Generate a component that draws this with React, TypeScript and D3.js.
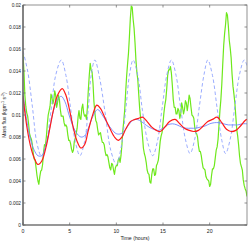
import React from 'react';
import * as d3 from 'd3';

// time axis ticks (hours) and flux ticks
const xTicks = [0, 5, 10, 15, 20];
const yTicks = [0, 0.002, 0.004, 0.006, 0.008, 0.01, 0.012, 0.014, 0.016, 0.018, 0.02];
const yTickLabels = ['0', '0.002', '0.004', '0.006', '0.008', '0.01', '0.012', '0.014', '0.016', '0.018', '0.02'];

// observed flux, sampled every 0.1 h from 0 to 24 h
const observedStep = 0.1;
const observed = [
  0.0155, 0.0140, 0.0118, 0.0108, 0.0102, 0.0099, 0.0092, 0.0083, 0.0080, 0.0078,
  0.0073, 0.0065, 0.0060, 0.0059, 0.0052, 0.0045, 0.0040, 0.0037, 0.0044, 0.0049,
  0.0050, 0.0055, 0.0066, 0.0073, 0.0072, 0.0080, 0.0091, 0.0100, 0.0104, 0.0108,
  0.0119, 0.0116, 0.0110, 0.0114, 0.0122, 0.0118, 0.0107, 0.0111, 0.0118, 0.0114,
  0.0105, 0.0099, 0.0099, 0.0099, 0.0093, 0.0090, 0.0091, 0.0089, 0.0082, 0.0077,
  0.0077, 0.0074, 0.0069, 0.0066, 0.0068, 0.0076, 0.0079, 0.0083, 0.0088, 0.0098,
  0.0104, 0.0097, 0.0096, 0.0106, 0.0110, 0.0102, 0.0099, 0.0100, 0.0096, 0.0107,
  0.0123, 0.0136, 0.0147, 0.0141, 0.0139, 0.0129, 0.0112, 0.0102, 0.0095, 0.0093,
  0.0087, 0.0082, 0.0083, 0.0084, 0.0079, 0.0075, 0.0075, 0.0073, 0.0067, 0.0063,
  0.0064, 0.0062, 0.0057, 0.0052, 0.0050, 0.0056, 0.0055, 0.0050, 0.0046, 0.0052,
  0.0054, 0.0054, 0.0059, 0.0061, 0.0057, 0.0063, 0.0073, 0.0086, 0.0095, 0.0105,
  0.0121, 0.0135, 0.0146, 0.0156, 0.0171, 0.0188, 0.0199, 0.0198, 0.0187, 0.0179,
  0.0166, 0.0150, 0.0139, 0.0132, 0.0119, 0.0106, 0.0097, 0.0091, 0.0081, 0.0070,
  0.0065, 0.0062, 0.0057, 0.0050, 0.0047, 0.0046, 0.0039, 0.0038, 0.0046, 0.0051,
  0.0051, 0.0045, 0.0046, 0.0054, 0.0056, 0.0059, 0.0067, 0.0076, 0.0081, 0.0084,
  0.0093, 0.0102, 0.0109, 0.0114, 0.0124, 0.0136, 0.0141, 0.0141, 0.0144, 0.0138,
  0.0127, 0.0114, 0.0107, 0.0107, 0.0101, 0.0101, 0.0106, 0.0104, 0.0097, 0.0101,
  0.0111, 0.0107, 0.0101, 0.0105, 0.0113, 0.0111, 0.0104, 0.0110, 0.0118, 0.0115,
  0.0107, 0.0100, 0.0099, 0.0097, 0.0089, 0.0084, 0.0083, 0.0080, 0.0072, 0.0067,
  0.0067, 0.0063, 0.0057, 0.0052, 0.0051, 0.0050, 0.0044, 0.0042, 0.0041, 0.0040,
  0.0035, 0.0037, 0.0045, 0.0051, 0.0051, 0.0054, 0.0061, 0.0068, 0.0071, 0.0078,
  0.0091, 0.0104, 0.0114, 0.0128, 0.0146, 0.0163, 0.0174, 0.0182, 0.0193, 0.0191,
  0.0181, 0.0168, 0.0161, 0.0152, 0.0137, 0.0126, 0.0119, 0.0111, 0.0099, 0.0087,
  0.0081, 0.0073, 0.0063, 0.0056, 0.0053, 0.0050, 0.0041, 0.0036, 0.0033, 0.0031,
  0.0026,
];

// tidal forcing (dashed)
const forcingTime = [
  0, 0.5, 1.0, 1.5, 2.0, 2.5, 3.0, 3.5, 4.1, 4.6, 5.1, 5.6, 6.1, 6.6, 7.0, 7.3, 7.7,
  8.2, 8.8, 9.4, 10.0, 10.5, 11.0, 11.4, 11.8, 12.3, 12.8, 13.4, 13.9, 14.4, 14.9,
  15.4, 15.9, 16.4, 16.9, 17.4, 17.9, 18.4, 18.9, 19.4, 19.8, 20.3, 20.8, 21.3, 21.7,
  22.2, 22.7, 23.2, 23.7, 24.0,
];
const forcing = [
  0.0158, 0.0140, 0.0108, 0.0074, 0.0062, 0.0074, 0.0104, 0.0136, 0.0150, 0.0136,
  0.0106, 0.0076, 0.0063, 0.0076, 0.0106, 0.0136, 0.0150, 0.0134, 0.0102, 0.0068,
  0.0055, 0.0070, 0.0104, 0.0136, 0.0150, 0.0136, 0.0104, 0.0074, 0.0063, 0.0076,
  0.0106, 0.0136, 0.0150, 0.0136, 0.0106, 0.0078, 0.0065, 0.0078, 0.0108, 0.0137,
  0.0150, 0.0136, 0.0106, 0.0077, 0.0065, 0.0078, 0.0108, 0.0137, 0.0150, 0.0145,
];

// model runs
const modelTime = [
  0, 0.4, 0.8, 1.2, 1.6, 2.0, 2.5, 2.9, 3.3, 3.7, 4.1, 4.5, 4.9, 5.3, 5.7, 6.2, 6.6,
  7.0, 7.5, 8.0, 8.5, 9.0, 9.5, 10.0, 10.5, 11.0, 11.5, 12.0, 12.5, 13.0, 13.5, 14.0,
  14.5, 15.0, 15.5, 16.0, 16.5, 17.0, 17.5, 18.0, 18.5, 19.0, 19.5, 20.0, 20.5, 21.0,
  21.5, 22.0, 22.5, 23.0, 23.5, 24.0,
];
const modelBlue = [
  0.0120, 0.0095, 0.0078, 0.0068, 0.0063, 0.0063, 0.0074, 0.0090, 0.0105, 0.0114,
  0.0117, 0.0112, 0.0101, 0.0091, 0.0084, 0.0080, 0.0081, 0.0088, 0.0099, 0.0105,
  0.0100, 0.0093, 0.0087, 0.0083, 0.0083, 0.0087, 0.0093, 0.0096, 0.0095, 0.0092,
  0.0089, 0.0087, 0.0086, 0.0088, 0.0091, 0.0092, 0.0091, 0.0089, 0.0088, 0.0088,
  0.0088, 0.0089, 0.0090, 0.0092, 0.0093, 0.0093, 0.0092, 0.0091, 0.0091, 0.0091,
  0.0092, 0.0092,
];
const modelRedTime = [
  0, 0.4, 0.8, 1.2, 1.6, 2.0, 2.5, 2.9, 3.3, 3.7, 4.2, 4.6, 5.0, 5.4, 5.8, 6.2, 6.6,
  7.0, 7.5, 7.9, 8.3, 8.8, 9.3, 9.8, 10.2, 10.6, 11.0, 11.5, 12.0, 12.4, 12.8, 13.3,
  13.8, 14.3, 14.7, 15.2, 15.7, 16.3, 16.8, 17.3, 17.8, 18.3, 18.8, 19.3, 19.8, 20.3,
  20.8, 21.3, 21.8, 22.3, 22.8, 23.3, 23.8, 24.0,
];
const modelRed = [
  0.0117, 0.0090, 0.0072, 0.0061, 0.0055, 0.0058, 0.0072, 0.0089, 0.0106, 0.0118,
  0.0124, 0.0118, 0.0104, 0.0088, 0.0076, 0.0070, 0.0073, 0.0086, 0.0101, 0.0109,
  0.0106, 0.0097, 0.0088, 0.0080, 0.0077, 0.0080, 0.0087, 0.0094, 0.0096, 0.0097,
  0.0098, 0.0094, 0.0089, 0.0086, 0.0085, 0.0089, 0.0094, 0.0096, 0.0092, 0.0088,
  0.0086, 0.0085, 0.0086, 0.0090, 0.0094, 0.0096, 0.0098, 0.0093, 0.0087, 0.0085,
  0.0086, 0.0090, 0.0095, 0.0096,
];

const W = 249;
const H = 242;
const m = { left: 23, right: 2, top: 5, bottom: 17 };

export default function App() {
  const x = d3.scaleLinear().domain([0, 24]).range([m.left, W - m.right]);
  const y = d3.scaleLinear().domain([0, 0.02]).range([H - m.bottom, m.top]);

  const line = d3
    .line<[number, number]>()
    .x((d) => x(d[0]))
    .y((d) => y(d[1]));
  const smooth = d3
    .line<[number, number]>()
    .x((d) => x(d[0]))
    .y((d) => y(d[1]))
    .curve(d3.curveCatmullRom);

  const obsPts = observed.map((v, i) => [i * observedStep, v] as [number, number]);
  const forcePts = forcingTime.map((t, i) => [t, forcing[i]] as [number, number]);
  const bluePts = modelTime.map((t, i) => [t, modelBlue[i]] as [number, number]);
  const redPts = modelRedTime.map((t, i) => [t, modelRed[i]] as [number, number]);

  const x0 = m.left;
  const x1 = W - m.right;
  const y0 = H - m.bottom;
  const y1 = m.top;
  const font = '"Liberation Sans", Arial, sans-serif';

  return (
    <svg
      width={W}
      height={H}
      style={{ position: 'absolute', left: 0, top: 0, background: '#fff' }}
      fontFamily={font}
    >
      <defs>
        <clipPath id="plot">
          <rect x={x0} y={y1} width={x1 - x0} height={y0 - y1} />
        </clipPath>
      </defs>
      <rect x={x0} y={y1} width={x1 - x0} height={y0 - y1} fill="#fff" />

      <g clipPath="url(#plot)" fill="none">
        <path d={line(obsPts) || ''} stroke="#6ee81c" strokeWidth={1.2} strokeLinejoin="round" />
        <path d={smooth(forcePts) || ''} stroke="#8fa3ff" strokeWidth={0.9} strokeDasharray="3.5,2.5" />
        <path d={smooth(bluePts) || ''} stroke="#6f86ff" strokeWidth={0.9} />
        <path d={smooth(redPts) || ''} stroke="#ff1a1a" strokeWidth={1.2} />
      </g>

      {/* box */}
      <rect x={x0} y={y1} width={x1 - x0} height={y0 - y1} fill="none" stroke="#777" strokeWidth={0.8} />
      <line x1={x0} x2={x0} y1={y1} y2={y0 + 0.5} stroke="#666" strokeWidth={1.4} />
      <line x1={x0} x2={x1} y1={y0} y2={y0} stroke="#666" strokeWidth={1.2} />

      {yTicks.map((t, i) => (
        <g key={'y' + i}>
          <line x1={x0} x2={x0 + 2.5} y1={y(t)} y2={y(t)} stroke="#666" strokeWidth={0.7} />
          <line x1={x1 - 2.5} x2={x1} y1={y(t)} y2={y(t)} stroke="#666" strokeWidth={0.7} />
          <text x={x0 - 2} y={y(t)} dy="0.35em" textAnchor="end" fontSize={4.8} fill="#222">
            {yTickLabels[i]}
          </text>
        </g>
      ))}
      {xTicks.map((t) => (
        <g key={'x' + t}>
          <line x1={x(t)} x2={x(t)} y1={y0} y2={y0 - 2.5} stroke="#666" strokeWidth={0.7} />
          <line x1={x(t)} x2={x(t)} y1={y1} y2={y1 + 2.5} stroke="#666" strokeWidth={0.7} />
          <text x={x(t)} y={y0 + 8} textAnchor="middle" fontSize={5.2} fill="#222">
            {t}
          </text>
        </g>
      ))}

      <text x={(x0 + x1) / 2} y={H - 2.5} textAnchor="middle" fontSize={5.2} fill="#222">
        Time (hours)
      </text>
      <text
        transform={`translate(6,${(y0 + y1) / 2}) rotate(-90)`}
        textAnchor="middle"
        fontSize={5}
        fill="#222"
      >
        Mass flux (kgm
        <tspan fontSize={3.6} dy={-2}>-1</tspan>
        <tspan dy={2}> s</tspan>
        <tspan fontSize={3.6} dy={-2}>-2</tspan>
        <tspan dy={2}>)</tspan>
      </text>
    </svg>
  );
}
